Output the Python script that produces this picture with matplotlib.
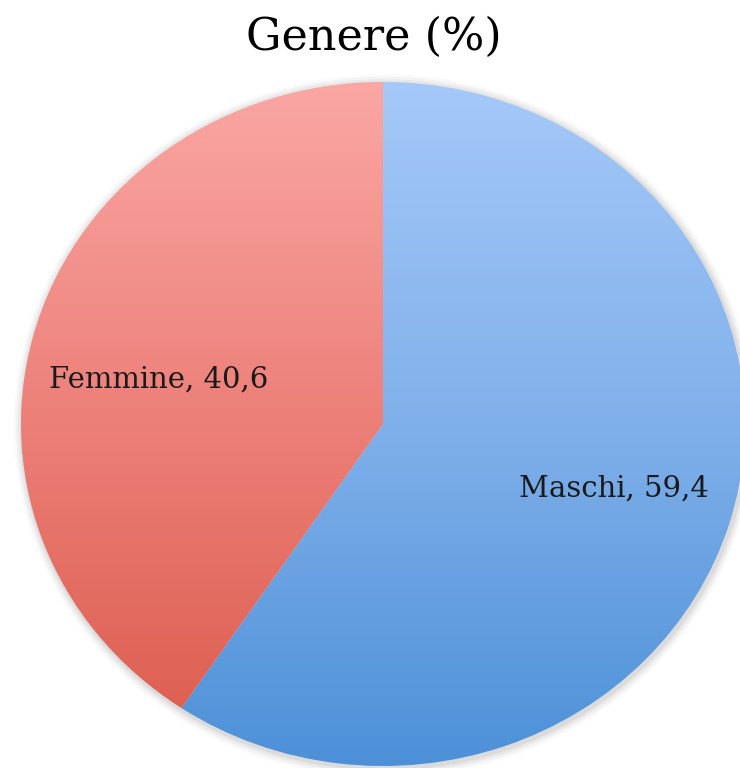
import numpy as np
import matplotlib
matplotlib.use("Agg")
import matplotlib.pyplot as plt
from matplotlib.colors import LinearSegmentedColormap
from matplotlib.patches import Ellipse

# Data
categories = ["Maschi", "Femmine"]
values = [59.4, 40.6]
labels = ["Maschi, 59,4", "Femmine, 40,6"]
title = "Genere (%)"

W, H = 740, 768
fig = plt.figure(figsize=(W / 100, H / 100), dpi=100)
ax = fig.add_axes([0, 0, 1, 1])

# pixel geometry of the (slightly elliptical) pie
cx, cy = 383, 424   # pixel center (y from top)
rx, ry = 362, 342

# soft shadow
for i, a in enumerate([0.05, 0.04, 0.03, 0.02]):
    e = Ellipse((0.004, -0.006), 2 + 0.012 * (i + 1), 2 + 0.014 * (i + 1),
                facecolor="black", edgecolor="none", alpha=a, zorder=0)
    ax.add_patch(e)

wedges, _ = ax.pie(values, startangle=90, counterclock=False, radius=1,
                   wedgeprops=dict(edgecolor="none", linewidth=0))

grads = [
    ["#a7cafa", "#80b0ea", "#4a8fd7"],
    ["#fba9a6", "#ec7f78", "#da5849"],
]
for w, g in zip(wedges, grads):
    w.set_facecolor("none")
    cmap = LinearSegmentedColormap.from_list("g", g)
    grad = np.linspace(0, 1, 256).reshape(-1, 1)
    im = ax.imshow(grad, extent=(-1.05, 1.05, -1.05, 1.05), origin="upper",
                   cmap=cmap, aspect="auto", zorder=1, interpolation="bilinear")
    im.set_clip_path(w)

ax.set_aspect("auto")
ax.set_xlim(-cx / rx, (W - cx) / rx)
ax.set_ylim(-(H - cy) / ry, cy / ry)
ax.axis("off")

def px(xp, yp):
    return (xp - cx) / rx, (cy - yp) / ry

x0, y0 = px(614, 489)
ax.text(x0, y0, labels[0], ha="center", va="center", fontsize=21,
        family="DejaVu Serif", color="#1a1a1a", zorder=3)
x1, y1 = px(159, 380)
ax.text(x1, y1, labels[1], ha="center", va="center", fontsize=21,
        family="DejaVu Serif", color="#1a1a1a", zorder=3)

fig.text(374 / W, 1 - 37 / H, title, ha="center", va="center", fontsize=32,
         family="DejaVu Serif", color="black")

fig.savefig("out.png", dpi=100)
